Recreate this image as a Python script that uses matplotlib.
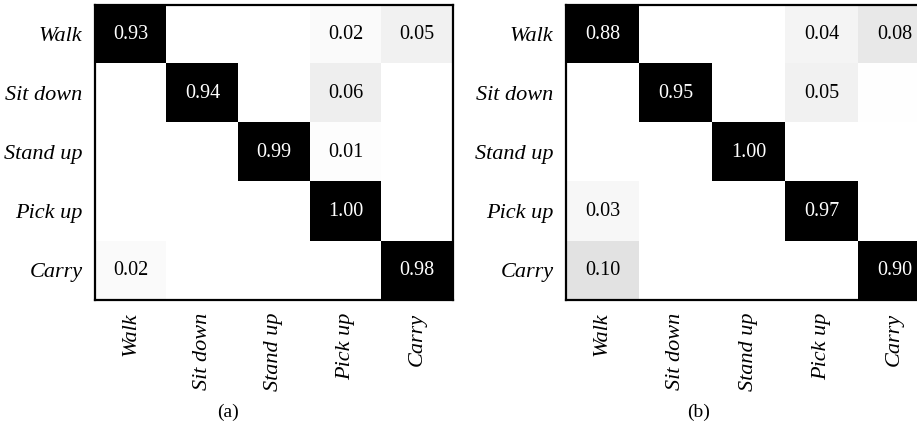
import numpy as np
import matplotlib.pyplot as plt

# activity classes
labels = ['Walk', 'Sit down', 'Stand up', 'Pick up', 'Carry']

# confusion matrix (a)
cm_a = np.array([
    [0.93, 0.00, 0.00, 0.02, 0.05],
    [0.00, 0.94, 0.00, 0.06, 0.00],
    [0.00, 0.00, 0.99, 0.01, 0.00],
    [0.00, 0.00, 0.00, 1.00, 0.00],
    [0.02, 0.00, 0.00, 0.00, 0.98],
])

# confusion matrix (b)
cm_b = np.array([
    [0.88, 0.00, 0.00, 0.04, 0.08],
    [0.00, 0.95, 0.00, 0.05, 0.004],
    [0.00, 0.00, 1.00, 0.00, 0.00],
    [0.03, 0.00, 0.00, 0.97, 0.00],
    [0.10, 0.00, 0.00, 0.00, 0.90],
])

plt.rcParams['font.family'] = ['Liberation Serif', 'DejaVu Serif']

fig = plt.figure(figsize=(9.17, 4.26), dpi=100)
ax_a = fig.add_axes([0.1036, 0.296, 0.3904, 0.6925])
ax_b = fig.add_axes([0.6172, 0.296, 0.398, 0.6925])


def draw_cm(ax, cm):
    ax.imshow(cm, cmap='binary', vmin=0, vmax=0.88, aspect='auto',
              interpolation='nearest')
    for i in range(cm.shape[0]):
        for j in range(cm.shape[1]):
            v = cm[i, j]
            if v >= 0.005:
                ax.text(j, i, '%.2f' % v, ha='center', va='center',
                        fontsize=14.5, color='white' if v > 0.5 else 'black')
    ax.set_xticks(range(len(labels)))
    ax.set_yticks(range(len(labels)))
    ax.set_xticklabels(labels, rotation=90, fontstyle='italic', fontsize=16)
    ax.set_yticklabels(labels, fontstyle='italic', fontsize=16)
    ax.tick_params(length=0, pad=9)
    for s in ax.spines.values():
        s.set_linewidth(1.6)


draw_cm(ax_a, cm_a)
draw_cm(ax_b, cm_b)

fig.text(228 / 917, 1 - 412 / 426, '(a)', ha='center', va='center', fontsize=14)
fig.text(699 / 917, 1 - 412 / 426, '(b)', ha='center', va='center', fontsize=14)

fig.savefig('out.png', dpi=100)
